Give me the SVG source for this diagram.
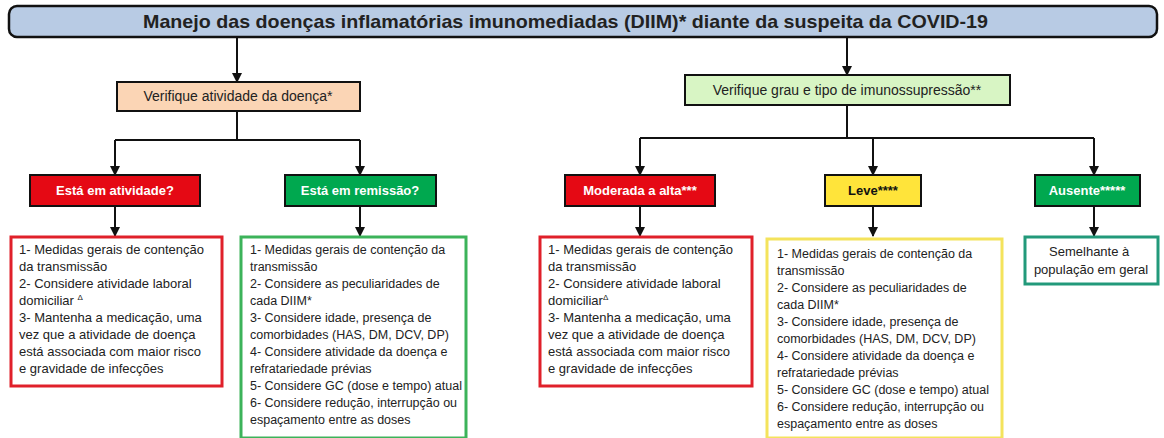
<svg xmlns="http://www.w3.org/2000/svg" width="1164" height="438" viewBox="0 0 1164 438">
<defs>
<style>
text{font-family:"Liberation Sans",Arial,sans-serif;fill:#222}
.t{font-size:12.5px}
.r{font-size:13px}
.v{font-size:14px}
.lbl{font-size:13px;font-weight:bold;text-anchor:middle;fill:#fff}
.blk{fill:#111}
.c{text-anchor:middle}
.box{stroke:#111;stroke-width:2}
.con{fill:none;stroke:#111;stroke-width:2}
</style>
<marker id="ah" viewBox="0 0 10 10" refX="9" refY="5" markerWidth="5" markerHeight="5" orient="auto" markerUnits="strokeWidth">
<path d="M0,0 L10,5 L0,10 z" fill="#111"/>
</marker>
</defs>
<rect width="1164" height="438" fill="#fff"/>

<g id="connectors">
<path class="con" d="M237,37 V82" marker-end="url(#ah)"/>
<path class="con" d="M847,37 V75" marker-end="url(#ah)"/>
<path class="con" d="M237,111 V140"/>
<path class="con" d="M115,140 H360"/>
<path class="con" d="M115,140 V175" marker-end="url(#ah)"/>
<path class="con" d="M360,140 V175" marker-end="url(#ah)"/>
<path class="con" d="M847,105 V138"/>
<path class="con" d="M640,138 H1094"/>
<path class="con" d="M640,138 V175" marker-end="url(#ah)"/>
<path class="con" d="M873,138 V175" marker-end="url(#ah)"/>
<path class="con" d="M1094,138 V175" marker-end="url(#ah)"/>
<path class="con" d="M115,206 V236" marker-end="url(#ah)"/>
<path class="con" d="M360,206 V236" marker-end="url(#ah)"/>
<path class="con" d="M640,206 V236" marker-end="url(#ah)"/>
<path class="con" d="M873,206 V236" marker-end="url(#ah)"/>
<path class="con" d="M1094,206 V236" marker-end="url(#ah)"/>
</g>

<g id="title">
<rect x="9" y="6" width="1148" height="31" rx="8" fill="#b8cbe4" stroke="#111" stroke-width="2.5"/>
<text x="143" y="28" style="font-size:19px;font-weight:bold" textLength="845" lengthAdjust="spacingAndGlyphs">Manejo das doenças inflamatórias imunomediadas (DIIM)* diante da suspeita da COVID-19</text>
</g>

<g id="verifique-atividade">
<rect x="117" y="82" width="243" height="29" fill="#fbd5b5" class="box"/>
<text x="238" y="101" class="v c">Verifique atividade da doença*</text>
</g>

<g id="verifique-imuno">
<rect x="685" y="75" width="325" height="30" fill="#d8f5c4" class="box"/>
<text x="847" y="95" class="v c">Verifique grau e tipo de imunossupressão**</text>
</g>

<g id="em-atividade">
<rect x="30" y="175" width="170" height="31" fill="#e50914" class="box"/>
<text x="115" y="195" class="lbl">Está em atividade?</text>
</g>

<g id="em-remissao">
<rect x="285" y="175" width="151" height="31" fill="#00a84f" class="box"/>
<text x="360" y="195" class="lbl">Está em remissão?</text>
</g>

<g id="moderada">
<rect x="565" y="175" width="150" height="31" fill="#e50914" class="box"/>
<text x="640" y="195" class="lbl">Moderada a alta***</text>
</g>

<g id="leve">
<rect x="825" y="175" width="96" height="31" fill="#ffe43a" class="box"/>
<text x="873" y="195" class="lbl blk">Leve****</text>
</g>

<g id="ausente">
<rect x="1035" y="175" width="105" height="31" fill="#00a84f" class="box"/>
<text x="1087" y="195" class="lbl">Ausente*****</text>
</g>

<g id="acoes-atividade">
<rect x="11" y="237" width="211" height="149" fill="#fff" stroke="#e0202a" stroke-width="3"/>
<text class="r">
<tspan x="19" y="254">1- Medidas gerais de contenção</tspan>
<tspan x="19" y="271">da transmissão</tspan>
<tspan x="19" y="288">2- Considere atividade laboral</tspan>
<tspan x="19" y="305">domiciliar <tspan style="font-size:8px" dy="-5">Δ</tspan></tspan>
<tspan x="19" y="322">3- Mantenha a medicação, uma</tspan>
<tspan x="19" y="339">vez que a atividade de doença</tspan>
<tspan x="19" y="356">está associada com maior risco</tspan>
<tspan x="19" y="373">e gravidade de infecções</tspan>
</text>
</g>

<g id="acoes-remissao">
<rect x="241" y="237" width="225" height="201" fill="#fff" stroke="#3cb35a" stroke-width="3"/>
<text class="t">
<tspan x="250" y="254">1- Medidas gerais de contenção da</tspan>
<tspan x="250" y="271">transmissão</tspan>
<tspan x="250" y="288">2- Considere as peculiaridades de</tspan>
<tspan x="250" y="305">cada DIIM*</tspan>
<tspan x="250" y="322">3- Considere idade, presença de</tspan>
<tspan x="250" y="339">comorbidades (HAS, DM, DCV, DP)</tspan>
<tspan x="250" y="356">4- Considere atividade da doença e</tspan>
<tspan x="250" y="373">refratariedade prévias</tspan>
<tspan x="250" y="390">5- Considere GC (dose e tempo) atual</tspan>
<tspan x="250" y="407">6- Considere redução, interrupção ou</tspan>
<tspan x="250" y="424">espaçamento entre as doses</tspan>
</text>
</g>

<g id="acoes-moderada">
<rect x="540" y="237" width="212" height="149" fill="#fff" stroke="#e0202a" stroke-width="3"/>
<text class="r">
<tspan x="548" y="254">1- Medidas gerais de contenção</tspan>
<tspan x="548" y="271">da transmissão</tspan>
<tspan x="548" y="288">2- Considere atividade laboral</tspan>
<tspan x="548" y="305">domiciliar<tspan style="font-size:8px" dy="-5">Δ</tspan></tspan>
<tspan x="548" y="322">3- Mantenha a medicação, uma</tspan>
<tspan x="548" y="339">vez que a atividade de doença</tspan>
<tspan x="548" y="356">está associada com maior risco</tspan>
<tspan x="548" y="373">e gravidade de infecções</tspan>
</text>
</g>

<g id="acoes-leve">
<rect x="767" y="239" width="235" height="199" fill="#fff" stroke="#f4e35c" stroke-width="3"/>
<text class="t">
<tspan x="777" y="258">1- Medidas gerais de contenção da</tspan>
<tspan x="777" y="275">transmissão</tspan>
<tspan x="777" y="292">2- Considere as peculiaridades de</tspan>
<tspan x="777" y="309">cada DIIM*</tspan>
<tspan x="777" y="326">3- Considere idade, presença de</tspan>
<tspan x="777" y="343">comorbidades (HAS, DM, DCV, DP)</tspan>
<tspan x="777" y="360">4- Considere atividade da doença e</tspan>
<tspan x="777" y="377">refratariedade prévias</tspan>
<tspan x="777" y="394">5- Considere GC (dose e tempo) atual</tspan>
<tspan x="777" y="411">6- Considere redução, interrupção ou</tspan>
<tspan x="777" y="428">espaçamento entre as doses</tspan>
</text>
</g>

<g id="semelhante">
<rect x="1025" y="237" width="133" height="47" fill="#fff" stroke="#22997a" stroke-width="3"/>
<text class="r c">
<tspan x="1091" y="256">Semelhante à</tspan>
<tspan x="1091" y="274">população em geral</tspan>
</text>
</g>
</svg>
